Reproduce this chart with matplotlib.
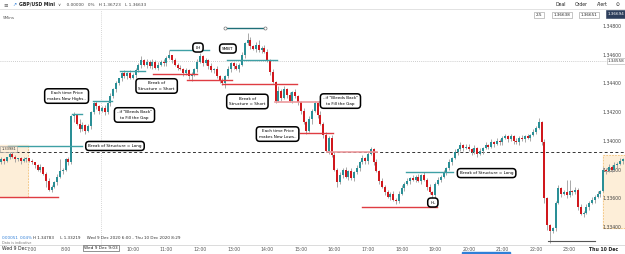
import matplotlib.pyplot as plt
import numpy as np
from matplotlib.transforms import blended_transform_factory

# GBP/USD Mini, 5 minute candles from Wed 9 Dec 6:00
# closes in pips above 1.3300, one row per hour
close_pips = [
    85, 87, 86, 89, 91, 89, 87, 88, 86, 87, 88, 86,
    85, 83, 80, 82, 77, 72, 66, 68, 71, 75, 79, 80,
    87, 85, 117, 118, 112, 108, 111, 107, 110, 120, 126, 124,
    121, 123, 120, 126, 131, 136, 140, 144, 147, 145, 147, 144,
    146, 149, 153, 156, 153, 155, 152, 155, 151, 153, 155, 154,
    158, 160, 156, 153, 151, 150, 147, 149, 145, 146, 150, 155,
    159, 154, 156, 152, 149, 150, 145, 142, 140, 145, 150, 154,
    152, 150, 153, 160, 168, 170, 166, 164, 167, 163, 165, 162,
    156, 148, 141, 128, 135, 130, 136, 132, 128, 134, 131, 127,
    121, 113, 107, 115, 121, 126, 118, 112, 104, 93, 102, 90,
    80, 71, 76, 80, 75, 79, 74, 78, 81, 85, 88, 86,
    91, 94, 85, 79, 72, 68, 64, 61, 63, 59, 58, 63,
    67, 70, 72, 74, 73, 75, 72, 76, 73, 68, 64, 62,
    70, 73, 75, 78, 81, 85, 88, 92, 94, 97, 95, 96,
    94, 92, 95, 91, 93, 95, 97, 96, 99, 98, 100, 99,
    102, 103, 101, 103, 100, 99, 102, 101, 103, 102, 104, 106,
    109, 113, 99, 60, 41, 37, 39, 57, 67, 63, 64, 62,
    65, 64, 66, 54, 49, 50, 54, 57, 59, 61, 63, 65,
    80, 79, 82, 80, 83, 84, 86, 87,
]
first_open_pips = 84
# wick lengths in pips above / below the body
wick_up = ("121012101210" "101201211281" "121213212112" "112121201212"
           "121312121212" "130212121212" "212121212121" "121215212312"
           "212131212121" "121212131212" "212121212121" "121212121212"
           "212121212121" "121212121212" "212121212121" "121212121212"
           "131211112129" "812121212121" "21212121")
wick_dn = ("212121212121" "121214121212" "121412121212" "212121212121"
           "121212121212" "212121212312" "121212121312" "212121212121"
           "121212121212" "212131212121" "131212121212" "212121212121"
           "121212121212" "212121212121" "121212121212" "212121212121"
           "112338121212" "121212121212" "12121212")

price_ticks = [1.334, 1.336, 1.338, 1.340, 1.342, 1.344, 1.346, 1.348]
hour_ticks = [7, 8, 10, 11, 12, 13, 14, 15, 16, 17, 18, 19, 20, 21, 22, 23, 24]

# drawn levels: (start hour, end hour, price)
teal_lines = [(6.29, 8.49, 1.33964), (8.19, 8.49, 1.34187), (8.82, 9.38, 1.34277),
              (9.62, 10.36, 1.34486), (11.11, 12.27, 1.34633), (12.80, 14.29, 1.34563),
              (18.13, 19.53, 1.33782)]
red_lines = [(6.05, 7.77, 1.33608), (10.60, 11.91, 1.34465), (11.61, 12.95, 1.34424),
             (12.65, 14.89, 1.34396), (14.98, 15.96, 1.34054), (16.82, 19.05, 1.33538)]
pink_lines = [(14.23, 15.57, 1.34270), (15.78, 17.27, 1.33922)]

notes = [
    ("Each time Price\nmakes New Highs..", 8.03, 1.34312),
    ('..if "Bleeds Back"\nto Fill the Gap', 10.05, 1.34180),
    ("Break of\nStructure = Short", 10.71, 1.34382),
    ("LH", 11.94, 1.34650),
    ("SMBT", 12.83, 1.34643),
    ("Break of\nStructure = Short", 13.41, 1.34274),
    ("Each time Price\nmakes New Lows..", 14.31, 1.34047),
    ('..if "Bleeds Back"\nto Fill the Gap', 16.18, 1.34277),
    ("Break of Structure = Long", 9.47, 1.33964),
    ("Break of Structure = Long", 20.53, 1.33775),
    ("HL", 18.93, 1.33570),
]

closes = 1.33 + np.array(close_pips) / 1e4
opens = np.r_[1.33 + first_open_pips / 1e4, closes[:-1]]
highs = np.maximum(opens, closes) + np.array([int(c) for c in wick_up]) / 1e4
lows = np.minimum(opens, closes) - np.array([int(c) for c in wick_dn]) / 1e4
times = 6 + np.arange(len(closes)) / 12

fig = plt.figure(figsize=(6.25, 2.54), dpi=100)
ax = fig.add_axes([0, 9 / 254, 1, 235 / 254])
ax.set_xlim(6.048, 24.649)
ax.set_ylim(1.332739, 1.349115)
for s in ax.spines.values():
    s.set_visible(False)
ax.spines['bottom'].set_visible(True)
ax.spines['bottom'].set_color('#d6d6d6')
ax.spines['bottom'].set_linewidth(0.6)

# session boxes
ax.fill_between([6.048, 6.88], 1.33608, 1.33971, color='#fdeed8', zorder=0)
ax.vlines(6.88, 1.33608, 1.33971, colors='#f3c27a', linestyles=(0, (2, 1.5)), lw=0.6, zorder=0)
ax.fill_between([24.0, 24.649], 1.33392, 1.33901, color='#fdeed8', zorder=0)
ax.plot([24.0, 24.0, 24.649], [1.33392, 1.33901, 1.33901], color='#f3c27a',
        ls=(0, (2, 1.5)), lw=0.6, zorder=0)
ax.plot([24.0, 24.649], [1.33392, 1.33392], color='#f3c27a', ls=(0, (2, 1.5)), lw=0.6, zorder=0)

# reference lines
ax.axhline(1.33925, color='#333333', ls=(0, (3, 2.5)), lw=0.7, zorder=1)
ax.axhline(1.34556, color='#bdbdbd', ls=(0, (1, 1.5)), lw=0.6, zorder=1)
ax.axvline(9.05, color='#c8c8c8', ls=(0, (1, 1.5)), lw=0.6, zorder=1)

# candles
up = closes >= opens
ax.vlines(times, lows, highs, colors='#9a9a9a', lw=0.6, zorder=2)
body = np.maximum(np.abs(closes - opens), 0.00003)
ax.bar(times[up], body[up], bottom=np.minimum(opens, closes)[up], width=0.055,
       color='#2a8f96', zorder=3)
ax.bar(times[~up], body[~up], bottom=np.minimum(opens, closes)[~up], width=0.055,
       color='#d0181d', zorder=3)

for x0, x1, p in teal_lines:
    ax.plot([x0, x1], [p, p], color='#3fa0a5', lw=1.0, zorder=4)
for x0, x1, p in red_lines:
    ax.plot([x0, x1], [p, p], color='#df3c42', lw=1.0, zorder=4)
for x0, x1, p in pink_lines:
    ax.plot([x0, x1], [p, p], color='#ec9a9d', lw=1.2, zorder=4)
ax.plot([12.74, 13.93], [1.34786, 1.34786], color='#1f6f78', lw=1.0, zorder=4,
        marker='o', ms=2.2, mfc='white', mec='#777777', mew=0.5)
ax.plot([22.36, 23.76], [1.33302, 1.33302], color='#555555', lw=0.8, zorder=4)

for txt, x, p in notes:
    ax.text(x, p, txt, fontsize=3.0, ha='center', va='center', zorder=6, linespacing=1.5,
            bbox=dict(boxstyle='round,pad=0.6,rounding_size=0.8', fc='white', ec='black', lw=1.1))

# price scale drawn inside the chart
ax.set_yticks(price_ticks)
ax.set_yticklabels(['%.5f' % v for v in price_ticks])
ax.tick_params(axis='y', left=False, labelleft=False, labelright=True, right=False,
               pad=-19.5, labelsize=3.3, labelcolor='#444444')
ax.set_xticks(hour_ticks)
ax.set_xticklabels(['%d:00' % h for h in hour_ticks[:-1]] + ['Thu 10 Dec'])
ax.tick_params(axis='x', length=0, pad=1.6, labelsize=3.3, labelcolor='#555555')
ax.get_xticklabels()[-1].set_fontweight('bold')
ax.get_xticklabels()[-1].set_color('#222222')

ax.text(6.09, 1.33943, '1.33981', fontsize=2.6, color='#333333', va='center', zorder=6,
        bbox=dict(boxstyle='square,pad=0.3', fc='#fdeed8', ec='#999999', lw=0.4))
ax.text(24.64, 1.34556, '1.34558', fontsize=3.0, color='#333333', va='center', ha='right',
        zorder=6, bbox=dict(boxstyle='square,pad=0.3', fc='white', ec='#aaaaaa', lw=0.4))

tr = blended_transform_factory(ax.transData, fig.transFigure)
fig.text(2 / 625, 1 - 248 / 254, 'Wed 9 Dec', fontsize=3.3, color='#222222', va='center')
ax.text(9.05, 1 - 248 / 254, 'Wed 9 Dec 9:03', transform=tr, fontsize=3.1, ha='center',
        va='center', color='#222222',
        bbox=dict(boxstyle='square,pad=0.3', fc='white', ec='#666666', lw=0.5))
fig.patches.append(plt.Rectangle((462 / 625, 0), 48 / 625, 2 / 254, transform=fig.transFigure,
                                 color='#2f7fd8'))

# status line
fig.text(2 / 625, 1 - 238 / 254, '0.00051', fontsize=3.0, color='#2f7fd8', va='center')
fig.text(20 / 625, 1 - 238 / 254, '0.04%', fontsize=3.0, color='#2f7fd8', va='center')
fig.text(33 / 625, 1 - 238 / 254, 'H 1.34783     L 1.33219     Wed 9 Dec 2020 6:00 - Thu 10 Dec 2020 8:29',
         fontsize=3.0, color='#333333', va='center')
fig.text(2 / 625, 1 - 242.5 / 254, 'Data is indicative', fontsize=2.4, color='#777777', va='center')
fig.text(3 / 625, 1 - 18 / 254, '5Mins', fontsize=3.0, color='#555555', va='center')

# top toolbar
fig.add_artist(plt.Line2D([0, 1], [1 - 9 / 254, 1 - 9 / 254], color='#dddddd', lw=0.6))
fig.text(3 / 625, 1 - 4.5 / 254, '≡', fontsize=4, color='#555555', va='center')
fig.text(12 / 625, 1 - 4.5 / 254, '↗', fontsize=3.5, color='#2f7fd8', va='center')
fig.text(19 / 625, 1 - 4.5 / 254, 'GBP/USD Mini', fontsize=3.3, color='#222222', va='center',
         fontweight='bold')
fig.text(58 / 625, 1 - 4.5 / 254, '∨    0.00000   0%   H 1.36723   L 1.36633', fontsize=3.1,
         color='#444444', va='center')
for label, xp in [('Deal', 555), ('Order', 575), ('Alert', 597), ('⊙', 616)]:
    fig.text(xp / 625, 1 - 4 / 254, label, fontsize=3.3, color='#222222', va='center')
for label, xc in [('2.5', 539), ('1.36638', 562), ('1.36651', 589)]:
    fig.text(xc / 625, 1 - 15 / 254, label, fontsize=3.0, color='#222222', va='center',
             ha='center', bbox=dict(boxstyle='square,pad=0.35', fc='white', ec='#999999', lw=0.4))
fig.text(624 / 625, 1 - 14 / 254, '1.36694', fontsize=3.0, color='white', va='center',
         ha='right', bbox=dict(boxstyle='square,pad=0.4', fc='#2d3e5c', ec='#2d3e5c', lw=0.4))

fig.savefig('out.png', dpi=100, facecolor='white')
